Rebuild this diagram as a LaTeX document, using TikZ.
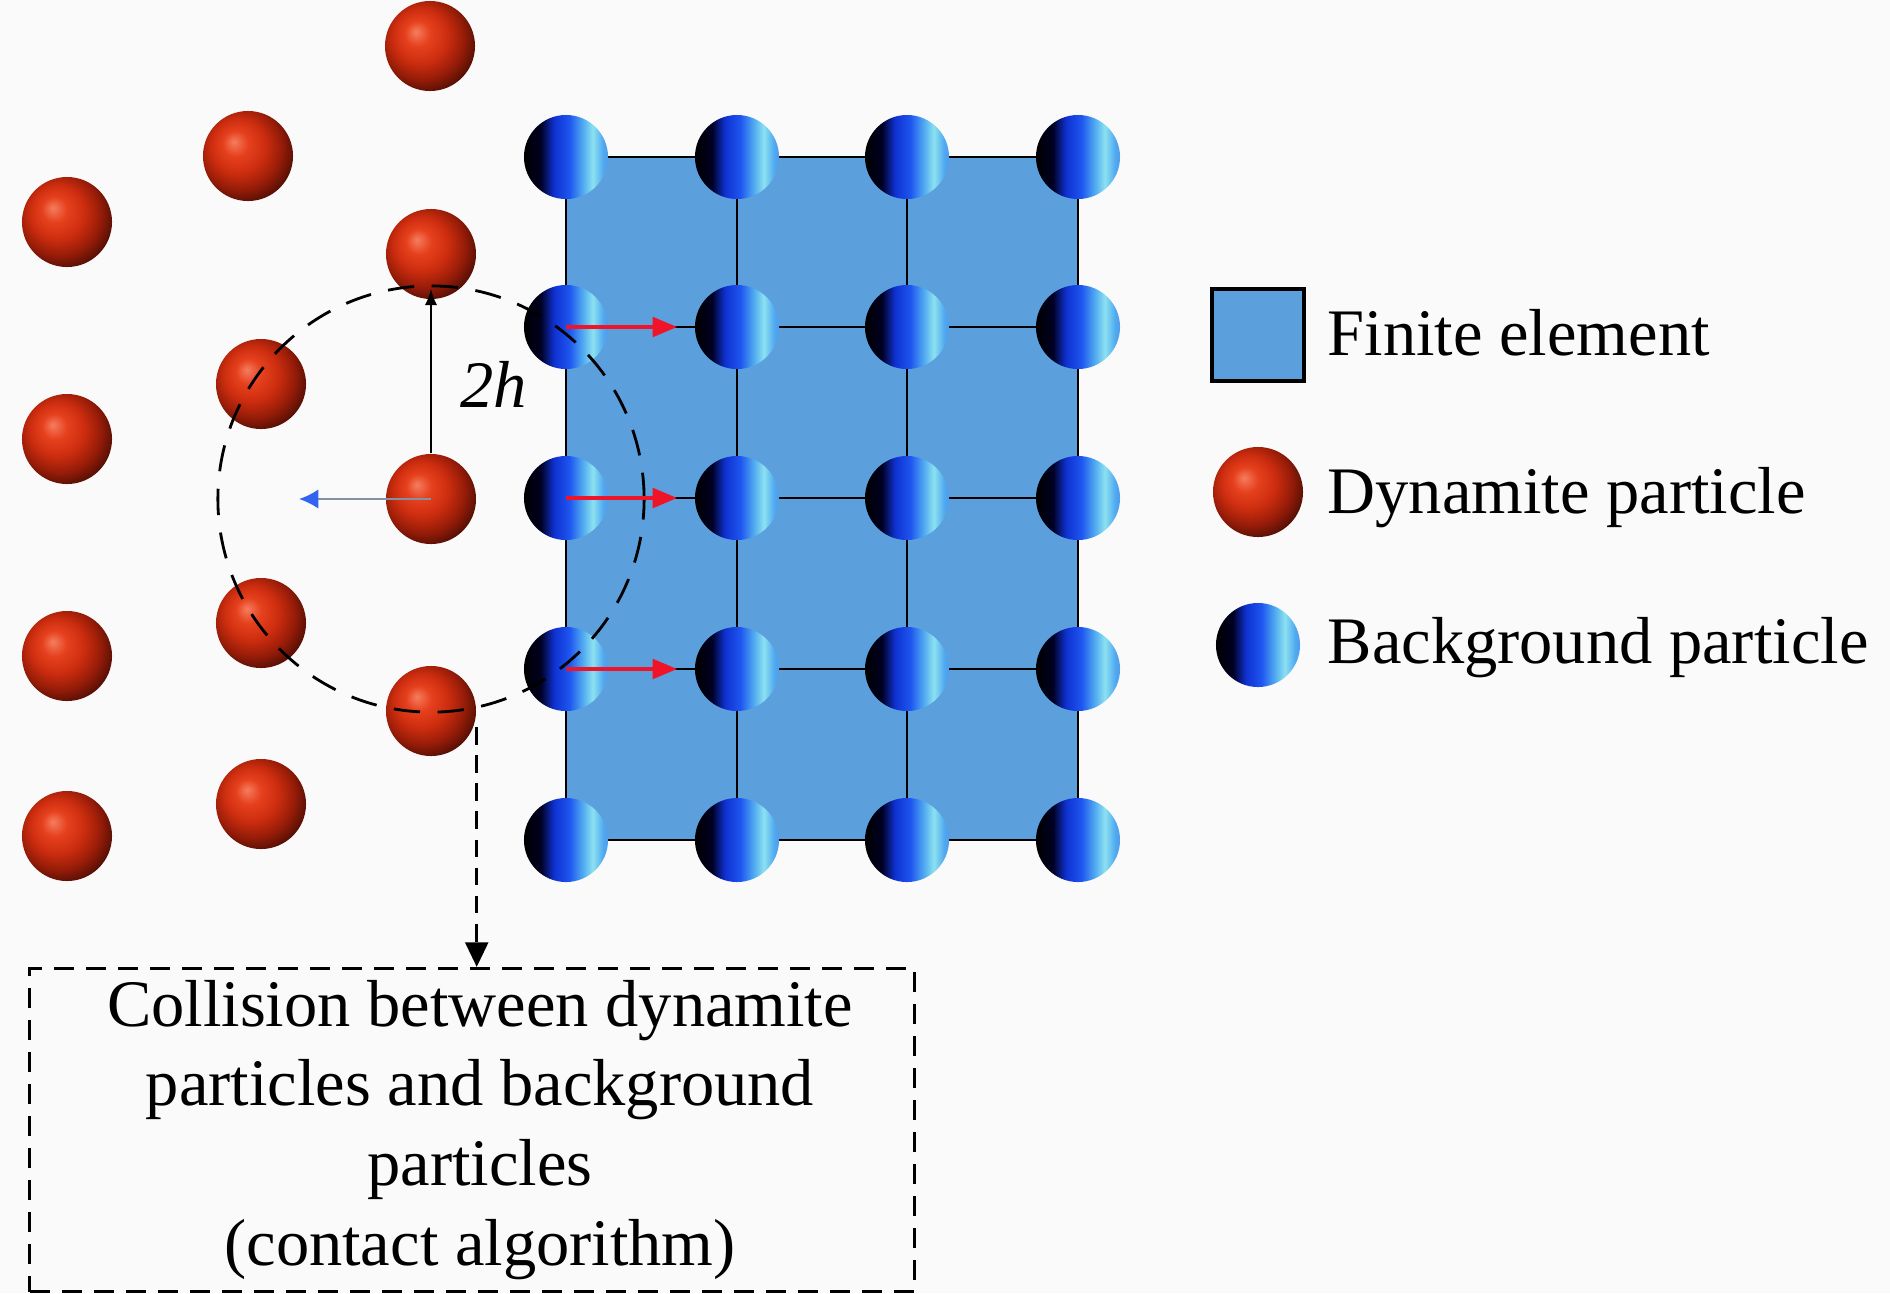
\documentclass[tikz,border=0pt]{standalone}
\usepackage{fontspec}
\setmainfont{Liberation Serif}
\usetikzlibrary{calc, arrows.meta}
\tikzset{>=latex}
\definecolor{bgpaper}{RGB}{250,250,250}
\definecolor{femblue}{RGB}{91,160,220}
\definecolor{dynhi}{RGB}{245,125,95}
\definecolor{dynmid}{RGB}{230,65,30}
\definecolor{dynred}{RGB}{205,45,15}
\definecolor{dyndark}{RGB}{150,28,8}
\definecolor{dynrim}{RGB}{70,12,5}
\definecolor{bgnavy}{RGB}{0,0,35}
\definecolor{bgblue}{RGB}{15,50,210}
\definecolor{bgmid}{RGB}{30,85,240}
\definecolor{bgsky}{RGB}{80,170,240}
\definecolor{bgcyan}{RGB}{140,225,240}
\definecolor{bgedge}{RGB}{80,155,235}
\definecolor{velblue}{RGB}{50,100,240}
\definecolor{velgray}{RGB}{130,145,165}
\definecolor{pushred}{RGB}{240,20,40}
\pgfdeclareradialshading{dynball}{\pgfpoint{-8bp}{8bp}}{color(0bp)=(dynhi); color(7bp)=(dynmid); color(15bp)=(dynred); color(23bp)=(dyndark); color(31bp)=(dynrim); color(36bp)=(black); color(50bp)=(black)}
\pgfdeclarehorizontalshading{bgball}{100bp}{color(0bp)=(black); color(25bp)=(black); color(35bp)=(bgnavy); color(43bp)=(bgblue); color(52bp)=(bgmid); color(60bp)=(bgsky); color(66bp)=(bgcyan); color(72bp)=(bgsky); color(75bp)=(bgedge); color(100bp)=(bgedge)}
\tikzset{
  dynamite/.style={circle, inner sep=0pt, minimum size=0.9cm, shading=dynball},
  bgpart/.style={circle, inner sep=0pt, minimum size=0.84cm, shading=bgball},
  support/.style={dash pattern=on 7.5pt off 5pt, line width=0.8pt},
  push/.style={draw=pushred, line width=1.2pt, shorten >=0.17cm, -{Triangle[length=7pt,width=5.5pt]}},
  velo/.style={draw=velgray, line width=0.6pt, -{Latex[length=5.5pt,width=5.5pt,color=velblue]}},
  keytext/.style={anchor=base west, inner sep=0pt}
}

\begin{document}
\begin{tikzpicture}[x=0.01cm, y=-0.01cm, font=\fontsize{18.9pt}{22.7pt}\selectfont]
\fill[bgpaper] (0,0) rectangle (1890,1293);
\useasboundingbox (0,0) rectangle (1890,1293);
% finite element mesh
\draw[fill=femblue, line width=0.8pt] (566,157) rectangle (1078,840);
\foreach \px in {737,907} \draw[line width=0.6pt] (\px,157) -- (\px,840);
\foreach \py in {327,498,669} \draw[line width=0.6pt] (566,\py) -- (1078,\py);
\foreach \i/\px in {1/566, 2/737, 3/907, 4/1078}
  \foreach \j/\py in {1/157, 2/327, 3/498, 4/669, 5/840}
    \node[bgpart] (b\i\j) at (\px,\py) {};
% dynamite particles
\foreach \n/\px/\py in {1/430/46, 2/248/156, 3/67/222, 4/431/254, 5/261/384, 6/67/439,
    7/431/499, 8/261/623, 9/67/656, 10/431/711, 11/261/804, 12/67/836}
  \node[dynamite] (d\n) at (\px,\py) {};
\draw[support] (d7.center) circle [radius=2.13cm];
\coordinate (reach) at ($(d7)+(0,-210)$);
\draw[->, line width=0.6pt] (d7.north) -- (reach);
\node[keytext] (lab2h) at (460,407) {\itshape 2h};
\coordinate (vel) at ($(d7)+(-132,0)$);
\draw[velo] (d7.center) -- (vel);
\foreach \j in {2,3,4} \draw[push] (b1\j.center) -- (b2\j.west);
% contact algorithm
\node[draw, dash pattern=on 5.7pt off 3.4pt, line width=0.8pt, minimum width=8.84cm,
  minimum height=3.2cm, align=center] (collide) at (472,1130)
  {\hspace*{0.16cm}Collision between dynamite\\ \hspace*{0.16cm}particles and background\\ \hspace*{0.16cm}particles\\ \hspace*{0.16cm}(contact algorithm)};
\coordinate (hit) at ($(d10.east)+(0,16)$);
\draw[dash pattern=on 5pt off 3pt, line width=0.8pt, -{Triangle[length=7pt,width=6.5pt]}] (hit) -- (hit |- collide.north);
% legend
\node[draw, line width=1pt, fill=femblue, minimum size=0.92cm, inner sep=0pt] (keyfe) at (1258,335) {};
\node[keytext] (txtfe) at (1327,355) {Finite element};
\node[dynamite] (keyd) at (1258,492) {};
\node[keytext] (txtd) at (1327,513) {Dynamite particle};
\node[bgpart] (keyb) at (1258,645) {};
\node[keytext] (txtb) at (1327,663) {Background particle};
\end{tikzpicture}
\end{document}
